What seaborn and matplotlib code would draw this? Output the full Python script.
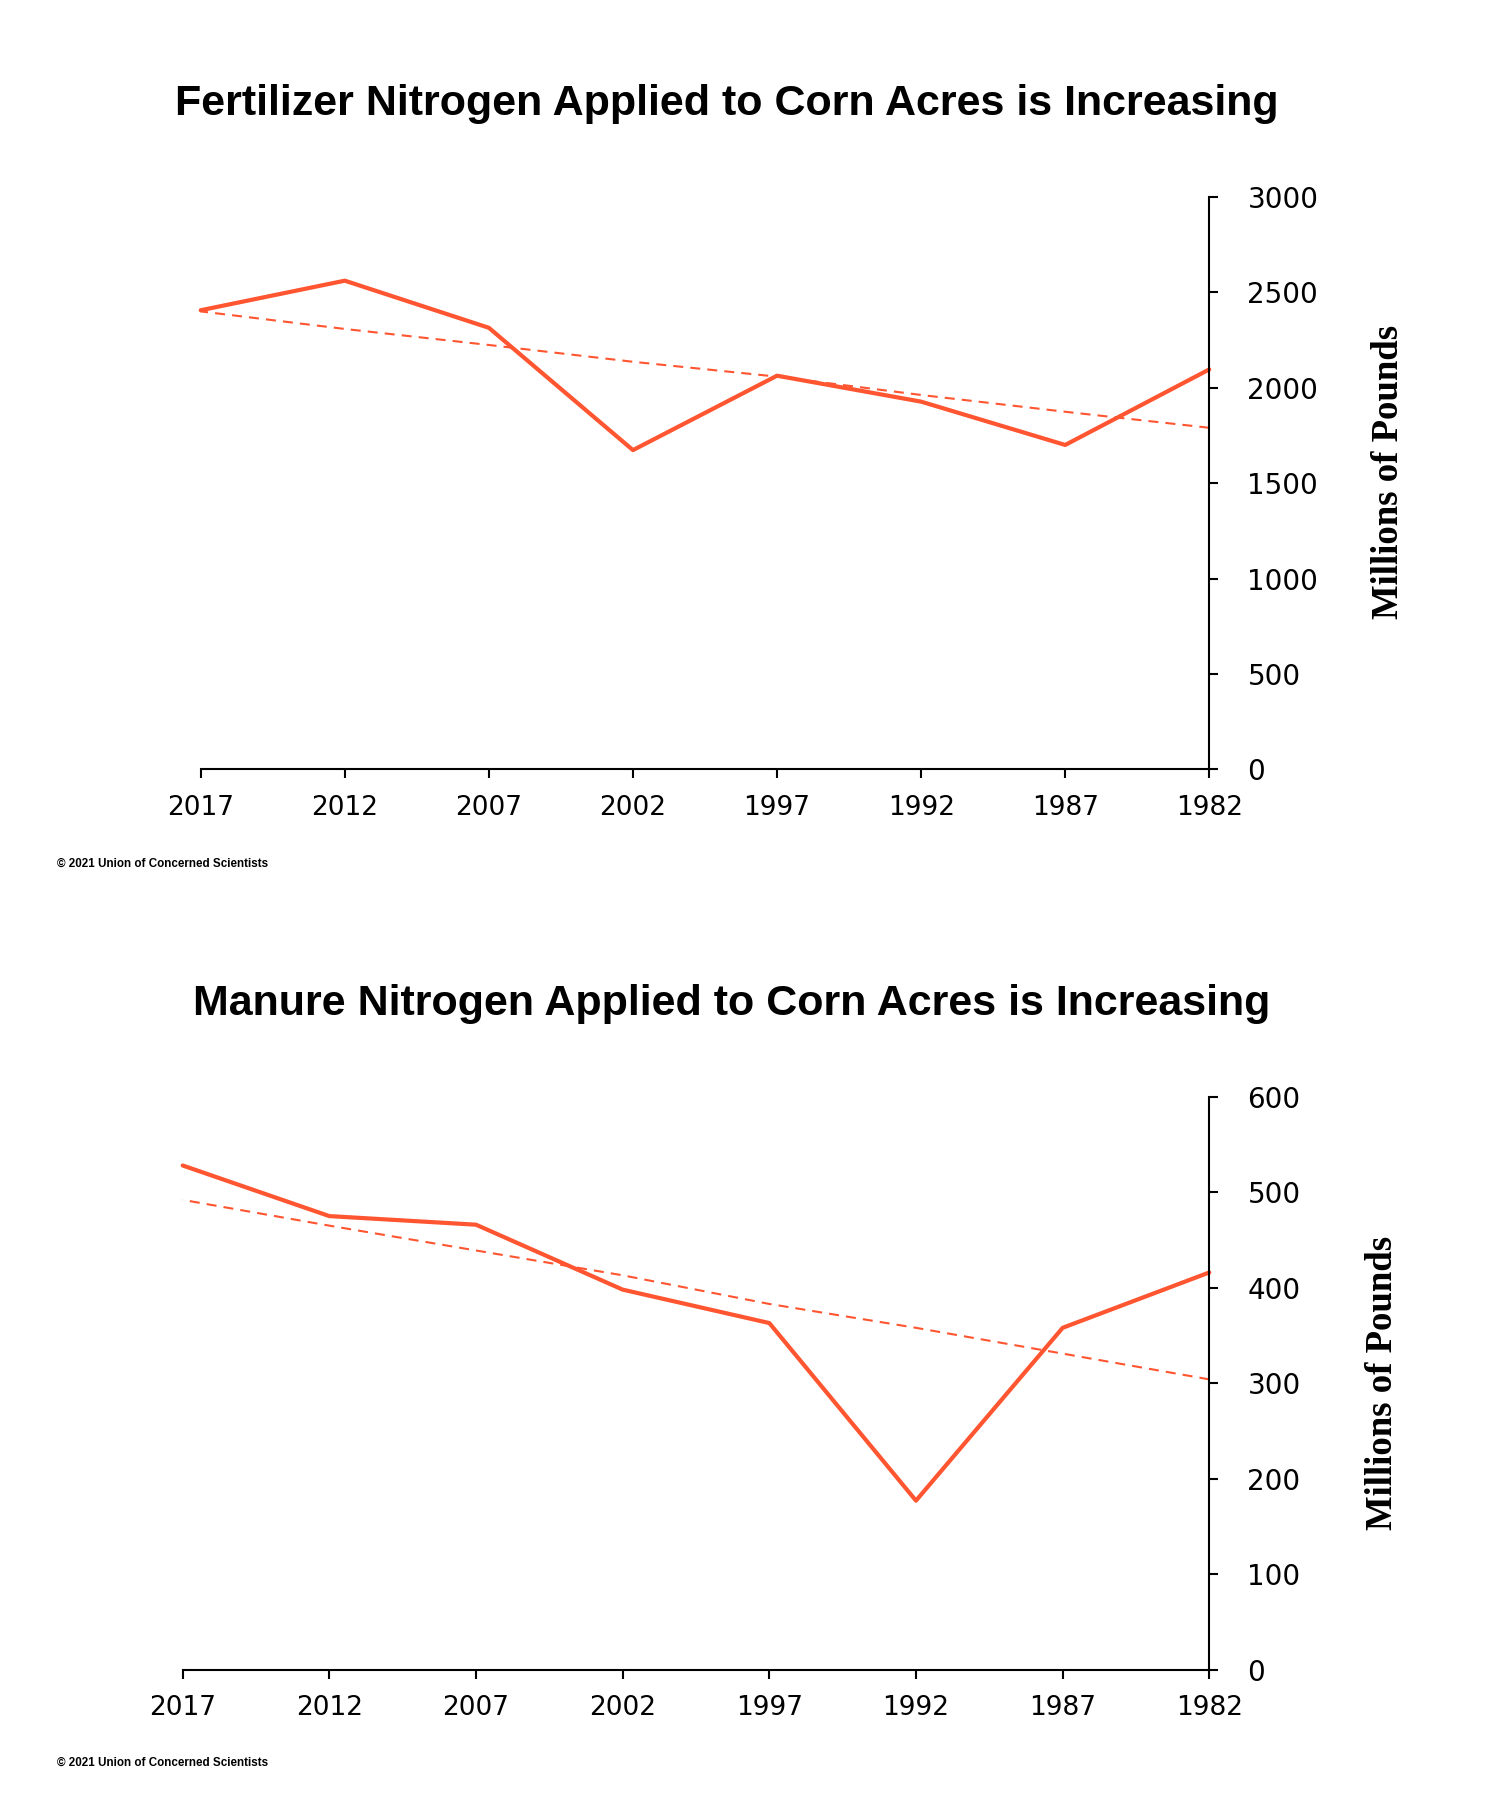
import matplotlib
matplotlib.use("Agg")
import matplotlib.pyplot as plt
import seaborn as sns
import pandas as pd

# values (millions of pounds of nitrogen)
years = [2017, 2012, 2007, 2002, 1997, 1992, 1987, 1982]
fertilizer = [2406, 2561, 2314, 1673, 2063, 1927, 1700, 2096]
fertilizer_trend = [2400, 2308, 2224, 2136, 2058, 1962, 1874, 1790]
manure = [528, 475, 466, 398, 363, 177, 358, 416]
manure_trend = [492, 465, 439, 413, 383, 358, 331, 304]

fert_ticks = [0, 500, 1000, 1500, 2000, 2500, 3000]
manure_ticks = [0, 100, 200, 300, 400, 500, 600]

titles = ["Fertilizer Nitrogen Applied to Corn Acres is Increasing",
          "Manure Nitrogen Applied to Corn Acres is Increasing"]
ylabel = "Millions of Pounds"
credit = "\u00a9 2021 Union of Concerned Scientists"

ORANGE = "#ff5530"

sns.set_theme(style="ticks")
plt.rcParams["font.family"] = ["DejaVu Sans"]

fig = plt.figure(figsize=(15, 18), dpi=100)
ax_top = fig.add_axes([0.1338, 0.5726, 0.6724, 0.3180])
ax_bot = fig.add_axes([0.1218, 0.0724, 0.6844, 0.3183])


def draw(ax, values, trend, ticks, title, title_xy, label_xy, credit_y):
    df = pd.DataFrame({"year": years, "value": values, "trend": trend})
    sns.lineplot(data=df, x="year", y="value", ax=ax, color=ORANGE, lw=3,
                 clip_on=False)
    sns.lineplot(data=df, x="year", y="trend", ax=ax, color=ORANGE, lw=1.5,
                 linestyle=(0, (4.8, 3.4)), clip_on=False)

    # layout is mirrored: newest year on the left, value axis on the right
    ax.set_xlim(years[0], years[-1])
    ax.set_ylim(ticks[0], ticks[-1])
    ax.set_xticks(years)
    ax.set_yticks(ticks)
    ax.yaxis.tick_right()
    ax.yaxis.set_label_position("right")
    for side in ["left", "top"]:
        ax.spines[side].set_visible(False)
    for side in ["right", "bottom"]:
        ax.spines[side].set_color("black")
        ax.spines[side].set_linewidth(1.5)
    ax.tick_params(length=6.5, width=1.5, colors="black")
    ax.tick_params(axis="x", pad=12, labelsize=19)
    ax.tick_params(axis="y", pad=21, labelsize=20)
    ax.set_xlabel("")
    ax.set_ylabel(ylabel, fontfamily="Liberation Serif", fontweight="bold",
                  fontsize=26.5, rotation=90, color="black")
    ax.yaxis.set_label_coords(*label_xy)
    ax.yaxis.label.set_va("center")
    ax.yaxis.label.set_ha("center")

    fig.text(title_xy[0], title_xy[1], title, ha="center", va="center",
             fontfamily="Liberation Sans", fontweight="bold", fontsize=31,
             color="black")
    fig.text(0.038, credit_y, credit, ha="left", va="center",
             fontfamily="Liberation Sans", fontweight="bold", fontsize=8.4,
             color="black")


draw(ax_top, fertilizer, fertilizer_trend, fert_ticks, titles[0],
     (0.4844, 0.9420), (1.178, 0.52), 0.520)
draw(ax_bot, manure, manure_trend, manure_ticks, titles[1],
     (0.4877, 0.4420), (1.169, 0.50), 0.0206)

fig.savefig("out.png", dpi=100)
plt.close(fig)
